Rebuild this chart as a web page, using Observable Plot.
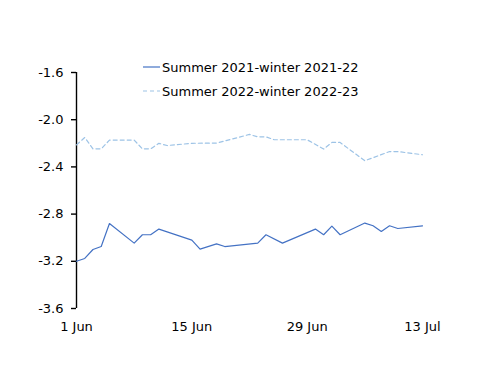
<!DOCTYPE html>
<html>
<head>
<meta charset="utf-8">
<script src="https://cdn.jsdelivr.net/npm/d3@7"></script>
<script src="https://cdn.jsdelivr.net/npm/@observablehq/plot@0.6"></script>
<style>
  html, body { margin: 0; padding: 0; background: #fff; }
  #chart { position: relative; width: 500px; height: 386px; }
</style>
</head>
<body>
<div id="chart"></div>
<script>
// Series 1: Summer 2021-winter 2021-22
const dates1 = ["2021-06-01","2021-06-02","2021-06-03","2021-06-04","2021-06-05","2021-06-08","2021-06-09","2021-06-10","2021-06-11","2021-06-15","2021-06-16","2021-06-18","2021-06-19","2021-06-23","2021-06-24","2021-06-26","2021-06-30","2021-07-01","2021-07-02","2021-07-03","2021-07-06","2021-07-07","2021-07-08","2021-07-09","2021-07-10","2021-07-13"];
const values1 = [-3.20,-3.176,-3.10,-3.075,-2.88,-3.046,-2.975,-2.975,-2.927,-3.02,-3.097,-3.052,-3.075,-3.046,-2.975,-3.046,-2.927,-2.975,-2.902,-2.975,-2.876,-2.899,-2.947,-2.899,-2.922,-2.899];
// Series 2: Summer 2022-winter 2022-23
const dates2 = ["2021-06-01","2021-06-02","2021-06-03","2021-06-04","2021-06-05","2021-06-08","2021-06-09","2021-06-10","2021-06-11","2021-06-12","2021-06-15","2021-06-18","2021-06-22","2021-06-23","2021-06-24","2021-06-25","2021-06-29","2021-07-01","2021-07-02","2021-07-03","2021-07-06","2021-07-09","2021-07-10","2021-07-13"];
const values2 = [-2.213,-2.151,-2.247,-2.247,-2.173,-2.173,-2.247,-2.247,-2.20,-2.219,-2.20,-2.198,-2.125,-2.145,-2.145,-2.17,-2.17,-2.249,-2.193,-2.193,-2.348,-2.27,-2.27,-2.297];
const seriesNames = ["Summer 2021-winter 2021-22", "Summer 2022-winter 2022-23"];
const yTicks = [-1.6, -2.0, -2.4, -2.8, -3.2, -3.6];
const xTickDates = ["2021-06-01","2021-06-15","2021-06-29","2021-07-13"];
const xTickLabels = ["1 Jun","15 Jun","29 Jun","13 Jul"];

const parse = d3.utcParse("%Y-%m-%d");
const rows1 = dates1.map((d, i) => ({date: parse(d), value: values1[i], series: seriesNames[0]}));
const rows2 = dates2.map((d, i) => ({date: parse(d), value: values2[i], series: seriesNames[1]}));
const xTicks = xTickDates.map(parse);
const labelOf = new Map(xTicks.map((t, i) => [+t, xTickLabels[i]]));

const solidColor = "#4472c4";
const dashColor = "#9dc3e6";
const font = "'DejaVu Sans', Verdana, sans-serif";
const yFmt = d => d.toFixed(1); // plain hyphen-minus as in the original

const plot = Plot.plot({
  width: 500,
  height: 386,
  marginLeft: 76,
  marginRight: 78,
  marginTop: 72,
  marginBottom: 78,
  style: {fontFamily: font, fontSize: "13px", color: "#000", background: "#fff"},
  x: {type: "utc", domain: [xTicks[0], xTicks[xTicks.length - 1]]},
  y: {domain: [-3.6, -1.6]},
  marks: [
    Plot.ruleX([xTicks[0]], {y1: -3.6, y2: -1.6, stroke: "#000", strokeWidth: 1.4}),
    Plot.axisY({ticks: yTicks, tickSize: 5, tickPadding: 8, tickFormat: yFmt, label: null, stroke: "#000", strokeWidth: 1.4, fontSize: 13}),
    Plot.axisX({ticks: xTicks, tickSize: 0, tickPadding: 13, tickFormat: d => labelOf.get(+d), label: null, fontSize: 13}),
    Plot.line(rows2, {x: "date", y: "value", stroke: dashColor, strokeWidth: 1.2, strokeDasharray: "4,3"}),
    Plot.line(rows1, {x: "date", y: "value", stroke: solidColor, strokeWidth: 1.2})
  ]
});
document.getElementById("chart").appendChild(plot);

// Legend inside the SVG
const svg = d3.select(plot);
const lg = svg.append("g").attr("font-family", font).attr("font-size", 13).attr("text-anchor", "start");
const legendItems = [
  {name: seriesNames[0], color: solidColor, dash: null, y: 67},
  {name: seriesNames[1], color: dashColor, dash: "4,3", y: 91}
];
legendItems.forEach(it => {
  lg.append("line").attr("x1", 143).attr("x2", 160).attr("y1", it.y).attr("y2", it.y)
    .attr("stroke", it.color).attr("stroke-width", 1.2).attr("stroke-dasharray", it.dash);
  lg.append("text").attr("x", 162).attr("y", it.y).attr("dy", "0.35em").attr("fill", "#000").attr("text-anchor", "start").text(it.name);
});
</script>
</body>
</html>
